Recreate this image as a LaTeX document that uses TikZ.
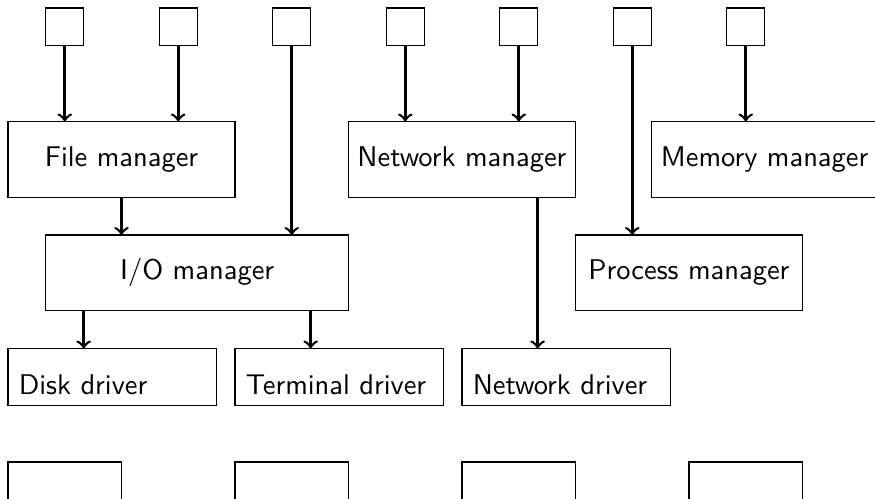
\documentclass[tikz,border=0pt]{standalone}
\usetikzlibrary{calc}
\begin{document}
\begin{tikzpicture}[x=1.4cm,y=1.4cm,
  font=\sffamily,
  box/.style={draw,line width=0.4pt,rectangle,inner sep=0pt,outer sep=0pt,anchor=north west},
  mgr/.style={box,minimum width=2.8cm,minimum height=0.9333cm},
  drv/.style={box,minimum width=2.5667cm,minimum height=0.7cm},
  slot/.style={box,minimum width=1.4cm,minimum height=0.7cm},
  port/.style={draw,line width=0.4pt,rectangle,inner sep=0pt,outer sep=0pt,minimum size=0.4667cm},
  drvtext/.style={anchor=south west,inner sep=3.6pt},
  arr/.style={->,>=to,line width=0.9pt}]
\useasboundingbox (-0.0705,0.0705) rectangle (7.639,-4.326);
\clip (-0.0705,0.0705) rectangle (7.639,-4.326);

% entry ports along the top
\foreach \k in {1,...,7}
  \node[port] (t\k) at ({\k-0.5},-0.1667) {};

% managers
\node[mgr] (fm) at (0,-1) {File manager};
\node[mgr] (nm) at (3,-1) {Network manager};
\node[mgr] (mm) at (5.6667,-1) {Memory manager};
\node[box,minimum width=3.7333cm,minimum height=0.9333cm] (io) at (0.3333,-2) {I/O manager};
\node[mgr] (pm) at (5,-2) {Process manager};

% drivers
\node[drv] (dd) at (0,-3) {};
\node[drv] (td) at (2,-3) {};
\node[drv] (nd) at (4,-3) {};
\node[drvtext] (ddl) at (dd.south west) {Disk driver};
\node[drvtext] (tdl) at (td.south west) {Terminal driver};
\node[drvtext] (ndl) at (nd.south west) {Network driver};

% hardware slots
\node[slot] (h1) at (0,-4) {};
\node[slot] (h2) at (2,-4) {};
\node[slot] (h3) at (4,-4) {};
\node[slot] (h4) at (6,-4) {};

% exit points for the lower connections
\coordinate (ioL) at ($(io.south)+(-1,0)$);
\coordinate (ioR) at ($(io.south)+(1,0)$);
\coordinate (nmR) at ($(nm.south)+(0.6667,0)$);

% connections
\draw[arr] (t1.south) -- (t1.south |- fm.north);
\draw[arr] (t2.south) -- (t2.south |- fm.north);
\draw[arr] (t3.south) -- (t3.south |- io.north);
\draw[arr] (t4.south) -- (t4.south |- nm.north);
\draw[arr] (t5.south) -- (t5.south |- nm.north);
\draw[arr] (t6.south) -- (t6.south |- pm.north);
\draw[arr] (t7.south) -- (t7.south |- mm.north);
\draw[arr] (fm.south) -- (fm.south |- io.north);
\draw[arr] (ioL) -- (ioL |- dd.north);
\draw[arr] (ioR) -- (ioR |- td.north);
\draw[arr] (nmR) -- (nmR |- nd.north);
\end{tikzpicture}
\end{document}
